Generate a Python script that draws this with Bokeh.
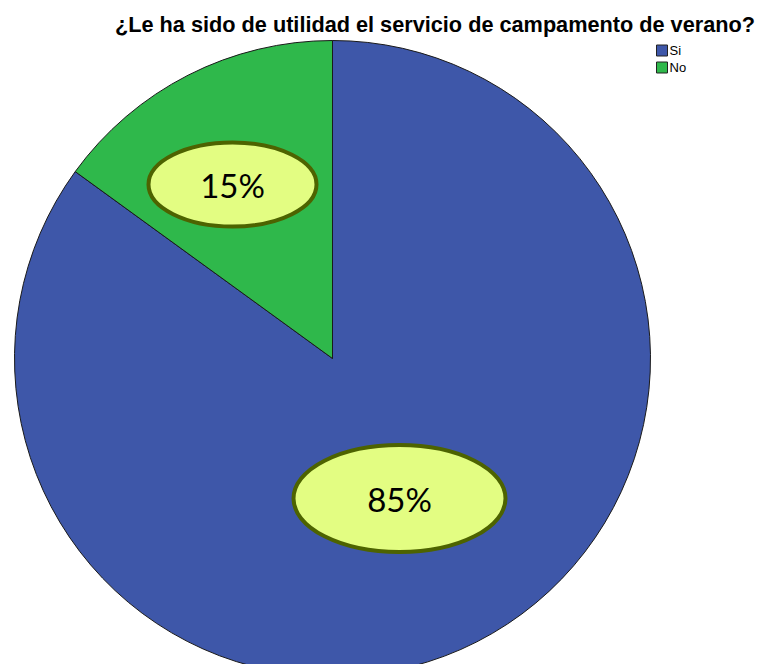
import math
from bokeh.plotting import figure
from bokeh.models import Range1d, ColumnDataSource
from bokeh.core.properties import value
from bokeh.embed import file_html
from bokeh.resources import INLINE

title = "¿Le ha sido de utilidad el servicio de campamento de verano?"
categories = ["Si", "No"]
percents = [85, 15]
colors = ["#3e57a9", "#2fb84b"]

H = 672
FW, FH = 756, 664
p = figure(width=FW, height=FH, output_backend="svg", toolbar_location=None,
           x_range=Range1d(0, FW), y_range=Range1d(H - FH, H),
           min_border=0, match_aspect=False)
p.axis.visible = False
p.grid.visible = False
p.outline_line_color = None
p.background_fill_color = "white"

cx, cy, r = 332, H - 358, 318

# wedges: "No" starts at 12 o'clock, counterclockwise; "Si" takes the rest
order = [1, 0]
angs = {}
a = math.pi / 2
for i in order:
    span = percents[i] / 100 * 2 * math.pi
    angs[i] = (a, a + span)
    a += span
src = ColumnDataSource(dict(
    s=[angs[i][0] for i in range(2)],
    e=[angs[i][1] for i in range(2)],
    c=colors, cat=categories))
p.wedge(x=cx, y=cy, radius=r, start_angle="s", end_angle="e", fill_color="c",
        line_color="#1a1a1a", line_width=1, source=src)

# labels inside ellipses (offsets from pie centre, in pixels)
lab_off = {0: (67, -140), 1: (-100, 174)}
ell_size = {0: (212, 107), 1: (168, 84)}
for i in range(2):
    lx = cx + lab_off[i][0]
    ly = cy + lab_off[i][1]
    w, h = ell_size[i]
    p.ellipse(x=lx, y=ly, width=w, height=h, fill_color="#e3fd82",
              line_color="#4d6300", line_width=4)
    p.text(x=lx, y=ly, text=[f"{percents[i]}%"], text_align="center",
           text_baseline="middle", text_font=value("Lato"), text_font_size="33px",
           text_color="black")

# title
p.text(x=434.5, y=H - 24, text=[title], text_align="center", text_baseline="middle",
       text_font=value("Liberation Sans"), text_font_style="bold",
       text_font_size="21.7px", text_color="black")

# legend
for k, cat in enumerate(categories):
    yy = H - (50 + 17 * k)
    p.rect(x=661.5, y=yy, width=11, height=11, fill_color=colors[k],
           line_color="#222222", line_width=1)
    p.text(x=669, y=yy, text=[cat], text_align="left", text_baseline="middle",
           text_font=value("Liberation Sans"), text_font_size="13px",
           text_color="black")

open("out.html", "w").write(file_html(p, INLINE))
